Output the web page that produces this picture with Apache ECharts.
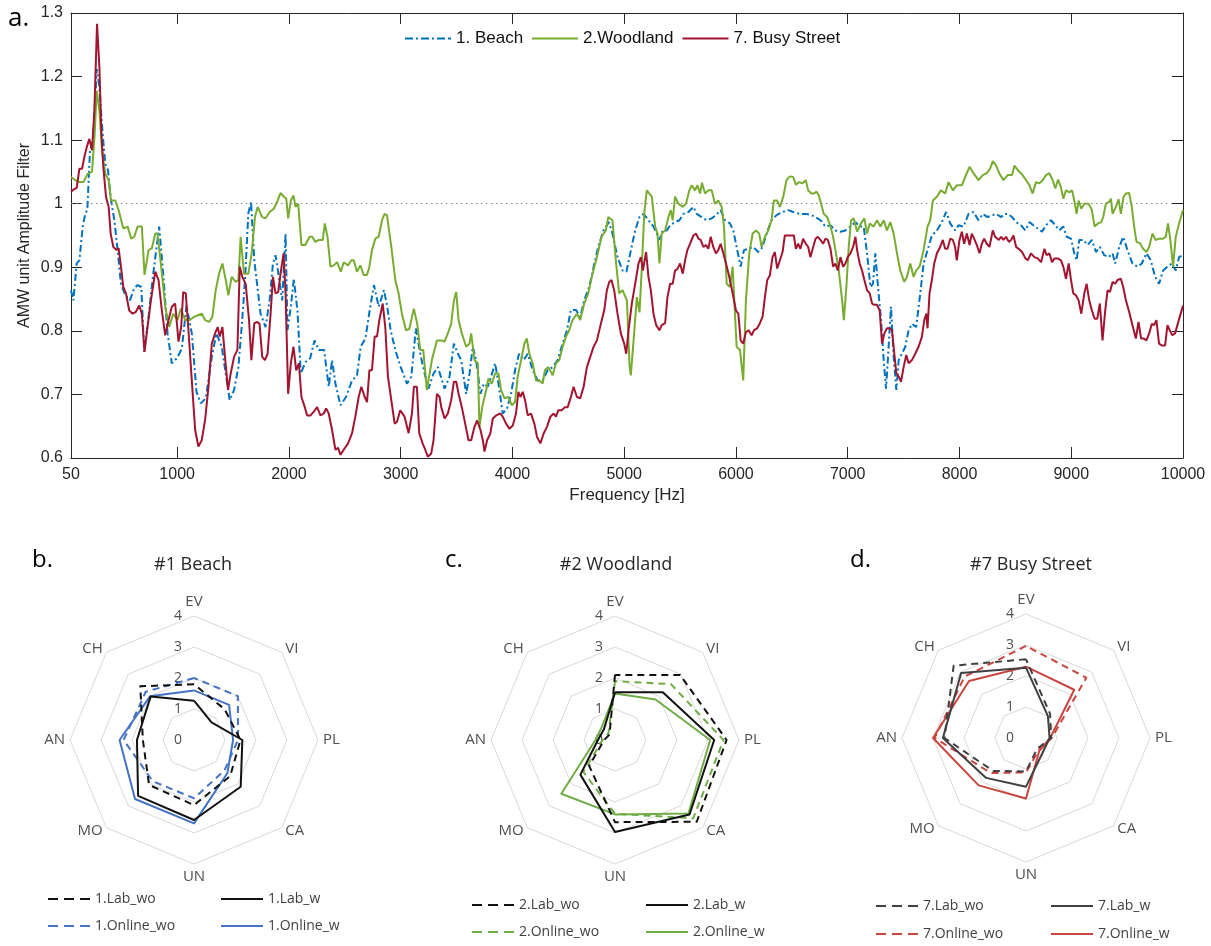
<!DOCTYPE html>
<html><head><meta charset="utf-8">
<script src="https://cdn.jsdelivr.net/npm/echarts@6/dist/echarts.min.js"></script>
<style>html,body{margin:0;padding:0;background:#fff}#c{width:1211px;height:946px}</style>
</head><body><div id="c"></div><script>
// ---------- panel a: amplitude filters ----------
const freqTicks = [50,1000,2000,3000,4000,5000,6000,7000,8000,9000,10000];
const beach = [[50,0.864],[71,0.848],[101,0.906],[125,0.911],[155,0.964],[179,0.985],[196,0.99],[220,1.084],[250,1.1],[280,1.212],[304,1.184],[333,1.11],[357,1.063],[381,1.053],[408,1.005],[438,0.974],[467,0.927],[497,0.874],[536,0.856],[577,0.848],[616,0.867],[646,0.872],[679,0.869],[705,0.767],[744,0.822],[786,0.89],[839,0.964],[875,0.89],[914,0.796],[952,0.749],[997,0.757],[1042,0.772],[1083,0.84],[1131,0.796],[1173,0.704],[1211,0.686],[1256,0.694],[1310,0.759],[1351,0.796],[1399,0.775],[1434,0.733],[1470,0.691],[1509,0.707],[1548,0.743],[1577,0.806],[1607,0.88],[1637,0.985],[1661,1.003],[1690,0.911],
[1746,0.827],[1791,0.806],[1827,0.848],[1857,0.906],[1880,0.919],[1910,0.885],[1940,0.848],[1970,0.953],[1987,0.801],[2017,0.838],[2044,0.882],[2077,0.83],[2106,0.733],[2148,0.751],[2190,0.757],[2229,0.785],[2267,0.77],[2315,0.77],[2356,0.712],[2386,0.754],[2416,0.717],[2461,0.683],[2511,0.696],[2565,0.722],[2609,0.73],[2642,0.775],[2684,0.788],[2728,0.838],[2761,0.872],[2803,0.838],[2850,0.864],[2880,0.838],[2910,0.801],[2952,0.77],[3000,0.743],[3056,0.717],[3095,0.728],[3136,0.804],[3175,0.764],[3214,0.733],[3249,0.709],[3294,0.733],[3333,0.743],
[3393,0.709],[3437,0.728],[3476,0.78],[3512,0.764],[3541,0.754],[3586,0.701],[3616,0.733],[3645,0.775],[3675,0.754],[3714,0.701],[3744,0.717],[3779,0.712],[3809,0.728],[3845,0.749],[3875,0.717],[3913,0.67],[3952,0.678],[3988,0.701],[4023,0.738],[4059,0.764],[4101,0.754],[4137,0.764],[4181,0.738],[4226,0.722],[4270,0.722],[4315,0.738],[4360,0.743],[4404,0.754],[4449,0.78],[4488,0.801],[4523,0.833],[4568,0.833],[4607,0.822],[4642,0.848],[4687,0.869],[4726,0.9],[4767,0.932],[4815,0.958],[4863,0.971],[4895,0.953],[4940,0.916],[4985,0.895],
[5020,0.893],[5054,0.922],[5098,0.958],[5137,0.979],[5173,0.984],[5217,0.974],[5262,0.964],[5292,0.953],[5315,0.943],[5345,0.958],[5381,0.958],[5411,0.966],[5455,0.971],[5494,0.974],[5530,0.984],[5574,0.987],[5619,0.995],[5649,0.984],[5693,0.979],[5738,0.974],[5783,0.977],[5821,0.982],[5863,0.99],[5902,0.974],[5946,0.969],[5976,0.958],[6006,0.932],[6042,0.901],[6071,0.927],[6110,0.929],[6155,0.932],[6199,0.924],[6238,0.932],[6274,0.953],[6318,0.974],[6363,0.982],[6417,0.987],[6467,0.99],[6512,0.987],[6571,0.984],[6625,0.984],[6675,0.982],
[6712,0.979],[6756,0.974],[6801,0.964],[6846,0.966],[6890,0.958],[6935,0.956],[6979,0.958],[7024,0.964],[7069,0.971],[7113,0.964],[7143,0.964],[7173,0.922],[7203,0.869],[7226,0.874],[7247,0.922],[7271,0.869],[7298,0.817],[7322,0.754],[7343,0.709],[7366,0.775],[7387,0.838],[7411,0.759],[7435,0.707],[7456,0.754],[7485,0.764],[7515,0.775],[7545,0.801],[7575,0.811],[7613,0.806],[7649,0.859],[7679,0.906],[7714,0.927],[7753,0.95],[7798,0.958],[7842,0.971],[7881,0.987],[7917,0.969],[7961,0.958],[7991,0.966],[8036,0.964],[8081,0.984],[8125,0.987],[8170,0.974],[8209,0.984],[8250,0.979],[8298,0.982],
[8328,0.984],[8373,0.979],[8402,0.984],[8432,0.984],[8471,0.979],[8507,0.971],[8551,0.966],[8590,0.958],[8626,0.971],[8661,0.966],[8700,0.961],[8739,0.956],[8774,0.966],[8819,0.974],[8858,0.966],[8893,0.958],[8929,0.964],[8959,0.948],[8998,0.945],[9027,0.922],[9048,0.911],[9072,0.943],[9108,0.943],[9146,0.935],[9185,0.943],[9221,0.924],[9256,0.932],[9295,0.919],[9334,0.916],[9370,0.922],[9393,0.906],[9429,0.932],[9465,0.948],[9503,0.927],[9548,0.906],[9593,0.901],[9631,0.906],[9673,0.922],[9712,0.911],[9750,0.885],[9786,0.874],[9822,0.895],[9861,0.901],[9899,0.906],[9935,0.895],[9965,0.916],[10000,0.919]];

const woodland = [[50,1.042],[89,1.037],[125,1.034],[161,1.034],[199,1.047],[238,1.05],[262,1.11],[280,1.178],[304,1.147],[327,1.084],[357,1.047],[387,1.037],[408,1.005],[446,1.005],[476,0.99],[518,0.961],[557,0.964],[589,0.945],[616,0.948],[646,0.964],[684,0.964],[708,0.888],[744,0.927],[774,0.93],[804,0.953],[824,0.953],[854,0.906],[893,0.838],[929,0.806],[964,0.827],[1003,0.817],[1033,0.835],[1071,0.817],[1113,0.817],[1152,0.822],[1190,0.825],[1220,0.827],[1250,0.817],[1286,0.814],[1315,0.822],[1345,0.864],[1375,0.89],[1405,0.906],[1435,0.88],[1458,0.856],[1488,0.885],[1524,0.877],[1548,0.88],[1568,0.948],[1598,0.89],[1637,0.89],[1667,0.922],[1696,0.979],[1720,0.995],
[1761,0.979],[1791,0.977],[1827,0.987],[1865,0.992],[1895,1.003],[1925,1.017],[1955,1.011],[1976,1.008],[1993,0.977],[2017,1.005],[2041,1.013],[2059,0.995],[2083,1.0],[2112,0.935],[2148,0.935],[2184,0.948],[2208,0.948],[2237,0.94],[2267,0.943],[2303,0.943],[2321,0.969],[2345,0.948],[2371,0.901],[2401,0.903],[2431,0.908],[2464,0.893],[2490,0.908],[2529,0.903],[2559,0.911],[2580,0.911],[2609,0.893],[2639,0.903],[2669,0.888],[2699,0.888],[2720,0.901],[2743,0.927],[2773,0.945],[2803,0.948],[2833,0.974],[2856,0.984],[2877,0.982],[2916,0.932],[2952,0.88],[2981,0.859],[3011,0.827],[3047,0.801],[3077,0.803],[3118,0.835],[3148,0.811],[3175,0.77],[3202,0.77],[3234,0.707],[3279,0.754],[3324,0.785],
[3363,0.785],[3393,0.783],[3422,0.796],[3452,0.811],[3476,0.848],[3497,0.861],[3518,0.817],[3547,0.796],[3586,0.775],[3616,0.78],[3631,0.796],[3660,0.754],[3690,0.749],[3705,0.649],[3729,0.68],[3765,0.707],[3785,0.725],[3815,0.717],[3845,0.733],[3875,0.733],[3898,0.707],[3928,0.694],[3964,0.696],[3994,0.683],[4023,0.688],[4047,0.728],[4077,0.754],[4107,0.78],[4128,0.788],[4151,0.764],[4181,0.749],[4211,0.722],[4241,0.722],[4270,0.717],[4291,0.738],[4321,0.743],[4360,0.73],[4389,0.749],[4419,0.754],[4449,0.775],[4479,0.791],[4508,0.801],[4538,0.817],[4577,0.827],[4607,0.817],[4642,0.843],[4678,0.859],[4717,0.89],[4756,0.916],[4797,0.948],[4836,0.958],[4857,0.979],[4895,0.974],[4925,0.911],[4955,0.859],[4985,0.864],
[5024,0.848],[5048,0.745],[5059,0.73],[5089,0.796],[5113,0.853],[5137,0.829],[5158,0.901],[5179,0.984],[5202,1.021],[5247,1.011],[5277,0.964],[5298,0.953],[5315,0.906],[5336,0.953],[5366,0.958],[5396,0.979],[5417,0.99],[5434,0.974],[5455,1.011],[5485,1.0],[5524,0.995],[5553,1.0],[5583,1.021],[5604,1.029],[5634,1.021],[5655,1.029],[5679,1.016],[5696,1.033],[5723,1.016],[5753,1.021],[5783,1.021],[5812,1.0],[5842,1.005],[5872,0.995],[5893,0.964],[5917,0.874],[5946,0.869],[5970,0.901],[6006,0.775],[6036,0.77],[6065,0.722],[6089,0.848],[6119,0.922],[6149,0.953],[6179,0.958],[6208,0.953],[6229,0.932],[6259,0.948],[6289,0.958],[6318,0.974],[6339,1.005],[6369,1.005],[6393,0.995],[6423,1.011],[6452,1.037],[6482,1.043],[6512,1.042],[6536,1.03],[6565,1.034],[6595,1.032],[6625,1.037],[6646,1.021],[6675,1.016],
[6697,1.016],[6721,1.019],[6741,1.013],[6762,1.0],[6786,0.984],[6816,0.979],[6846,0.964],[6869,0.948],[6890,0.927],[6920,0.895],[6950,0.848],[6965,0.817],[6988,0.869],[7009,0.932],[7030,0.974],[7054,0.977],[7084,0.956],[7119,0.969],[7149,0.977],[7173,0.953],[7197,0.969],[7232,0.964],[7262,0.974],[7292,0.964],[7322,0.974],[7351,0.958],[7381,0.971],[7411,0.953],[7441,0.922],[7470,0.895],[7506,0.877],[7530,0.885],[7560,0.906],[7589,0.885],[7613,0.895],[7643,0.901],[7679,0.927],[7714,0.964],[7738,0.974],[7762,1.005],[7798,1.011],[7833,1.021],[7872,1.016],[7902,1.034],[7941,1.021],[7976,1.029],[8021,1.029],[8051,1.042],[8090,1.058],[8125,1.048],[8170,1.037],[8209,1.045],[8244,1.048],[8274,1.055],[8298,1.067],
[8328,1.06],[8358,1.047],[8393,1.037],[8432,1.045],[8471,1.045],[8492,1.06],[8521,1.053],[8560,1.046],[8596,1.037],[8626,1.029],[8655,1.016],[8685,1.034],[8715,1.032],[8745,1.037],[8774,1.045],[8804,1.048],[8834,1.037],[8858,1.024],[8882,1.038],[8908,1.026],[8929,1.008],[8953,1.021],[8983,1.018],[9007,1.021],[9027,1.005],[9048,0.984],[9066,1.005],[9090,0.992],[9117,1.0],[9155,1.0],[9185,0.99],[9209,0.964],[9239,0.969],[9268,0.971],[9286,0.979],[9310,1.0],[9340,1.003],[9355,1.008],[9370,0.984],[9399,0.995],[9423,1.007],[9444,0.984],[9468,1.011],[9489,1.016],[9518,1.017],[9542,0.995],[9563,0.964],[9584,0.94],[9614,0.938],[9643,0.929],[9673,0.924],[9697,0.932],[9727,0.953],[9756,0.943],[9786,0.945],[9822,0.945],[9846,0.948],[9866,0.969],[9887,0.943],[9911,0.901],[9935,0.948],[9965,0.969],[10000,0.99]];

const busyStreet = [[50,1.019],[71,1.022],[101,1.025],[125,1.055],[149,1.055],[170,1.074],[191,1.089],[214,1.102],[238,1.084],[259,1.147],[283,1.283],[304,1.215],[321,1.116],[339,1.058],[363,1.011],[387,0.995],[405,0.953],[429,0.932],[458,0.927],[476,0.93],[497,0.901],[518,0.869],[542,0.859],[571,0.832],[601,0.827],[631,0.83],[661,0.84],[684,0.827],[708,0.767],[735,0.806],[765,0.848],[804,0.893],[833,0.88],[863,0.832],[893,0.793],[923,0.817],[952,0.838],[982,0.843],[1012,0.783],[1036,0.806],[1054,0.861],[1077,0.859],[1101,0.801],[1131,0.722],[1161,0.644],[1190,0.618],[1220,0.628],[1250,0.66],[1280,0.712],[1310,0.78],[1339,0.796],[1363,0.806],[1381,0.791],[1405,0.806],[1428,0.759],[1455,0.707],[1479,0.733],[1509,0.759],[1539,0.77],[1560,0.901],[1583,0.885],[1613,0.874],[1643,0.817],[1664,0.754],[1690,0.812],[1717,0.814],
[1737,0.811],[1761,0.759],[1785,0.754],[1809,0.764],[1836,0.827],[1857,0.885],[1880,0.859],[1904,0.861],[1925,0.89],[1952,0.922],[1970,0.859],[1993,0.701],[2017,0.749],[2041,0.775],[2065,0.738],[2089,0.749],[2112,0.696],[2142,0.68],[2163,0.667],[2193,0.667],[2223,0.673],[2252,0.68],[2282,0.667],[2312,0.67],[2333,0.678],[2356,0.67],[2386,0.644],[2416,0.613],[2440,0.616],[2461,0.605],[2490,0.613],[2529,0.623],[2565,0.639],[2594,0.665],[2624,0.696],[2648,0.712],[2678,0.696],[2699,0.688],[2720,0.738],[2743,0.738],[2767,0.791],[2788,0.791],[2809,0.817],[2839,0.843],[2862,0.806],[2886,0.728],[2916,0.691],[2946,0.654],[2967,0.657],[2996,0.675],[3035,0.665],[3071,0.639],[3101,0.67],[3118,0.712],[3145,0.712],[3166,0.639],[3196,0.623],[3220,0.613],[3243,0.602],[3273,0.607],[3294,0.628],[3324,0.701],[3348,0.696],
[3363,0.68],[3393,0.662],[3422,0.67],[3452,0.691],[3476,0.72],[3497,0.72],[3518,0.701],[3547,0.68],[3577,0.654],[3607,0.628],[3631,0.628],[3660,0.649],[3684,0.659],[3714,0.644],[3735,0.628],[3750,0.61],[3773,0.628],[3803,0.639],[3824,0.662],[3854,0.667],[3892,0.67],[3913,0.665],[3943,0.654],[3973,0.646],[4003,0.651],[4032,0.67],[4053,0.704],[4071,0.696],[4092,0.704],[4113,0.691],[4137,0.667],[4166,0.67],[4196,0.654],[4220,0.633],[4250,0.623],[4280,0.639],[4309,0.649],[4339,0.665],[4369,0.67],[4389,0.665],[4410,0.675],[4440,0.675],[4470,0.68],[4494,0.68],[4523,0.696],[4547,0.712],[4577,0.696],[4607,0.694],[4637,0.712],[4666,0.743],[4696,0.759],[4726,0.775],[4756,0.785],[4791,0.811],[4821,0.832],[4845,0.864],[4866,0.877],[4886,0.88],[4910,0.864],[4940,0.827],[4970,0.796],[5000,0.78],
[5018,0.764],[5039,0.801],[5068,0.843],[5098,0.874],[5128,0.906],[5149,0.916],[5167,0.895],[5196,0.924],[5217,0.885],[5238,0.864],[5262,0.827],[5286,0.809],[5315,0.801],[5336,0.809],[5366,0.812],[5387,0.853],[5411,0.874],[5434,0.874],[5455,0.895],[5476,0.897],[5500,0.906],[5524,0.89],[5545,0.911],[5565,0.927],[5589,0.937],[5619,0.95],[5643,0.953],[5664,0.945],[5684,0.943],[5708,0.932],[5732,0.935],[5753,0.929],[5774,0.948],[5797,0.932],[5821,0.922],[5842,0.927],[5863,0.937],[5887,0.922],[5911,0.906],[5940,0.885],[5970,0.859],[6000,0.832],[6021,0.827],[6042,0.785],[6065,0.78],[6089,0.798],[6113,0.801],[6140,0.793],[6161,0.801],[6190,0.804],[6214,0.812],[6238,0.822],[6259,0.853],[6280,0.88],[6303,0.887],[6327,0.916],[6348,0.924],[6369,0.898],[6393,0.911],[6417,0.924],[6437,0.95],[6467,0.95],[6497,0.95],[6518,0.95],[6536,0.929],[6556,0.937],[6577,0.929],[6601,0.945],[6625,0.937],[6646,0.932],[6666,0.916],
[6691,0.932],[6712,0.945],[6732,0.948],[6756,0.943],[6780,0.937],[6801,0.945],[6822,0.943],[6846,0.929],[6869,0.901],[6890,0.906],[6911,0.895],[6935,0.916],[6959,0.901],[6979,0.906],[7000,0.916],[7024,0.922],[7048,0.932],[7069,0.948],[7084,0.927],[7107,0.906],[7128,0.895],[7149,0.88],[7173,0.864],[7197,0.859],[7218,0.843],[7238,0.841],[7262,0.841],[7286,0.832],[7307,0.78],[7328,0.796],[7351,0.804],[7375,0.804],[7396,0.801],[7417,0.764],[7435,0.733],[7456,0.728],[7477,0.72],[7500,0.743],[7524,0.762],[7545,0.749],[7575,0.754],[7604,0.764],[7634,0.775],[7664,0.791],[7685,0.817],[7703,0.827],[7714,0.804],[7732,0.859],[7753,0.88],[7774,0.906],[7798,0.922],[7827,0.932],[7851,0.943],[7872,0.929],[7893,0.929],[7917,0.945],[7941,0.943],[7961,0.932],[7976,0.911],[8000,0.943],[8021,0.956],[8042,0.937],[8066,0.953],[8090,0.935],[8110,0.953],[8131,0.945],[8155,0.935],[8179,0.922],[8200,0.937],[8221,0.945],[8244,0.937],[8268,0.932],[8298,0.958],[8319,0.948],
[8352,0.943],[8373,0.948],[8393,0.943],[8417,0.948],[8441,0.94],[8462,0.943],[8483,0.95],[8507,0.932],[8530,0.929],[8560,0.924],[8590,0.914],[8611,0.911],[8640,0.922],[8670,0.916],[8700,0.914],[8730,0.908],[8760,0.929],[8780,0.919],[8804,0.922],[8828,0.908],[8849,0.914],[8879,0.914],[8908,0.911],[8929,0.901],[8953,0.882],[8977,0.906],[8998,0.88],[9018,0.859],[9042,0.856],[9066,0.848],[9090,0.827],[9117,0.859],[9138,0.874],[9161,0.848],[9185,0.832],[9209,0.819],[9233,0.819],[9256,0.843],[9280,0.785],[9304,0.832],[9325,0.864],[9346,0.861],[9370,0.877],[9393,0.874],[9414,0.88],[9444,0.882],[9465,0.869],[9489,0.848],[9518,0.83],[9548,0.809],[9578,0.788],[9602,0.814],[9625,0.788],[9649,0.788],[9673,0.785],[9697,0.796],[9721,0.811],[9741,0.809],[9762,0.817],[9786,0.78],[9810,0.777],[9840,0.777],[9861,0.809],[9881,0.801],[9905,0.793],[9929,0.796],[9950,0.809],[9971,0.822],[10000,0.84]];

// ---------- panels b-d: radar scores (clockwise from top) ----------
const radarAxes = ['EV','VI','PL','CA','UN','MO','AN','CH'];
const radarTicks = [0,1,2,3,4];
const beachLabWo    = [1.8, 1.4, 1.5, 1.65, 2.1, 2.05, 1.65, 2.45];
const beachLabW     = [1.27, 0.8, 1.56, 2.13, 2.58, 2.55, 1.84, 1.98];
const beachOnlineWo = [2.0, 2.0, 1.42, 1.39, 1.88, 1.88, 2.27, 2.2];
const beachOnlineW  = [1.6, 1.6, 1.26, 1.52, 2.69, 2.69, 2.4, 2.0];
const woodLabWo     = [2.1, 2.97, 3.6, 3.73, 2.65, 1.18, 0.35, 0.25];
const woodLabW      = [1.54, 2.18, 3.2, 3.4, 2.97, 1.58, 0.55, 0.5];
const woodOnlineWo  = [1.9, 2.55, 3.5, 3.57, 2.38, 1.45, 0.4, 0.3];
const woodOnlineW   = [1.5, 1.85, 3.07, 3.35, 2.4, 2.45, 0.63, 0.6];
const streetLabWo   = [2.54, 1.1, 0.81, 0.5, 1.08, 1.5, 2.63, 3.3];
const streetLabW    = [2.27, 1.0, 0.76, 0.73, 1.57, 1.82, 2.68, 2.96];
const streetOnlineWo= [2.97, 2.75, 0.83, 0.57, 1.11, 1.6, 2.95, 2.8];
const streetOnlineW = [2.3, 2.2, 0.78, 0.6, 1.95, 2.16, 3.0, 2.6];

// ECharts places radar indicators counter-clockwise, so reverse after the first
const order = [0,7,6,5,4,3,2,1];
const reorder = arr => order.map(i => arr[i]);

const ink = '#262626';
const gray = '#505050';
const sans = 'Liberation Sans, Arial, sans-serif';
const office = 'Open Sans, Noto Sans, sans-serif';

function indicators() {
  return order.map((i, k) => {
    const o = {name: radarAxes[i], min: radarTicks[0], max: radarTicks[radarTicks.length-1]};
    if (k === 0) o.axisLabel = {show: true};
    return o;
  });
}
function radarCfg(center) {
  return {
    center: center, radius: 124, startAngle: 90, splitNumber: 4, shape: 'polygon',
    indicator: indicators(),
    nameGap: 5,
    axisName: {color: gray, fontFamily: office, fontSize: 15},
    splitLine: {lineStyle: {color: '#d9d9d9', width: 1}},
    splitArea: {show: false},
    axisLine: {show: false},
    axisTick: {show: false},
    axisLabel: {show: false, color: gray, fontFamily: office, fontSize: 14, margin: 12}
  };
}
const dashed = [7, 5];
function rs(name, idx, values, color, dash) {
  return {
    type: 'radar', radarIndex: idx, name: name, symbol: 'none', silent: true,
    itemStyle: {color: color},
    lineStyle: {color: color, width: 2, type: dash ? dashed : 'solid'},
    data: [{value: reorder(values), name: name}]
  };
}
const iconDash = 'path://M0,0h10v2h-10zM16,0h10v2h-10zM32,0h10v2h-10z';
const iconSolid = 'path://M0,0h42v2h-42z';
function lg(name, left, cy, dash) {
  return {
    data: [{name: name, icon: dash ? iconDash : iconSolid}],
    left: left, top: cy - 9, padding: 0, itemWidth: 42, itemHeight: 2,
    selectedMode: false,
    textStyle: {color: '#404040', fontFamily: office, fontSize: 14}
  };
}
const iconDashDot = 'path://M0,0h8v2h-8zM11,0h2v2h-2zM16,0h8v2h-8zM27,0h2v2h-2zM32,0h8v2h-8zM43,0h3v2h-3z';
const iconLine46 = 'path://M0,0h46v2h-46z';

const blue = '#0072BD', green = '#77AC30', red = '#A2142F';
const cBlue = '#4472C4', cGreen = '#70AD47', cRed = '#C9453F', cBlack = '#111111', cDark = '#404040';

const chart = echarts.init(document.getElementById('c'), null, {renderer: 'canvas'});
chart.setOption({
  animation: false,
  backgroundColor: '#ffffff',
  grid: {left: 71, top: 13, width: 1112, height: 445, containLabel: false},
  xAxis: [
    {type: 'value', min: 50, max: 10000, position: 'bottom',
     name: 'Frequency [Hz]', nameLocation: 'middle', nameGap: 29,
     nameTextStyle: {color: ink, fontFamily: sans, fontSize: 17},
     axisLine: {lineStyle: {color: ink, width: 1}},
     axisTick: {inside: true, length: 11, customValues: freqTicks, lineStyle: {color: ink}},
     axisLabel: {customValues: freqTicks, color: ink, fontFamily: sans, fontSize: 16, margin: 9,
                 formatter: v => String(v)},
     splitLine: {show: false}},
    {type: 'value', min: 50, max: 10000, position: 'top',
     axisLine: {lineStyle: {color: ink, width: 1}},
     axisTick: {inside: true, length: 11, customValues: freqTicks, lineStyle: {color: ink}},
     axisLabel: {show: false}, splitLine: {show: false}}
  ],
  yAxis: [
    {type: 'value', min: 0.6, max: 1.3, interval: 0.1, position: 'left',
     name: 'AMW unit Amplitude Filter', nameLocation: 'middle', nameGap: 38, nameMoveOverlap: false,
     nameTextStyle: {color: ink, fontFamily: sans, fontSize: 16},
     axisLine: {show: true, lineStyle: {color: ink, width: 1}},
     axisTick: {show: true, inside: true, length: 11, lineStyle: {color: ink}},
     axisLabel: {color: ink, fontFamily: sans, fontSize: 16, margin: 8},
     splitLine: {show: false}},
    {type: 'value', min: 0.6, max: 1.3, interval: 0.1, position: 'right',
     axisLine: {show: true, lineStyle: {color: ink, width: 1}},
     axisTick: {show: true, inside: true, length: 11, lineStyle: {color: ink}},
     axisLabel: {show: false}, splitLine: {show: false}}
  ],
  radar: [radarCfg([194, 740]), radarCfg([615, 740]), radarCfg([1026, 738])],
  legend: [
    {data: [{name: '1. Beach', icon: iconDashDot}, {name: '2.Woodland', icon: iconLine46},
            {name: '7. Busy Street', icon: iconLine46}],
     left: 405, top: 30, padding: 0,
     itemWidth: 46, itemHeight: 2, itemGap: 9, selectedMode: false,
     textStyle: {color: '#111', fontFamily: sans, fontSize: 17}},
    lg('1.Lab_wo', 48, 901, true), lg('1.Lab_w', 221, 901, false),
    lg('1.Online_wo', 48, 928, true), lg('1.Online_w', 221, 928, false),
    lg('2.Lab_wo', 472, 907, true), lg('2.Lab_w', 646, 907, false),
    lg('2.Online_wo', 472, 934, true), lg('2.Online_w', 646, 934, false),
    lg('7.Lab_wo', 876, 908, true), lg('7.Lab_w', 1051, 908, false),
    lg('7.Online_wo', 876, 936, true), lg('7.Online_w', 1051, 936, false)
  ],
  graphic: [
    {type: 'text', left: 8, top: 6, style: {text: 'a.', font: '26px Open Sans', fill: '#000'}},
    {type: 'text', left: 32, top: 548, style: {text: 'b.', font: '24px Open Sans', fill: '#000'}},
    {type: 'text', left: 445, top: 548, style: {text: 'c.', font: '24px Open Sans', fill: '#000'}},
    {type: 'text', left: 850, top: 548, style: {text: 'd.', font: '24px Open Sans', fill: '#000'}},
    {type: 'text', x: 193, y: 565, style: {text: '#1 Beach', font: '18px Open Sans', fill: ink, align: 'center', verticalAlign: 'middle'}},
    {type: 'text', x: 616, y: 565, style: {text: '#2 Woodland', font: '18px Open Sans', fill: ink, align: 'center', verticalAlign: 'middle'}},
    {type: 'text', x: 1031, y: 565, style: {text: '#7 Busy Street', font: '18px Open Sans', fill: ink, align: 'center', verticalAlign: 'middle'}}
  ],
  series: [
    {type: 'line', name: '1. Beach', data: beach, symbol: 'none', showSymbol: false,
     lineStyle: {color: blue, width: 2, type: [7, 3, 2, 3]}, itemStyle: {color: blue},
     markLine: {silent: true, symbol: 'none', label: {show: false},
       lineStyle: {color: '#888', type: [1.5, 3.5], width: 1},
       data: [[{coord: [50, 1]}, {coord: [9900, 1]}]]}},
    {type: 'line', name: '2.Woodland', data: woodland, symbol: 'none', showSymbol: false,
     lineStyle: {color: green, width: 2}, itemStyle: {color: green}},
    {type: 'line', name: '7. Busy Street', data: busyStreet, symbol: 'none', showSymbol: false,
     lineStyle: {color: red, width: 2}, itemStyle: {color: red}},
    rs('1.Online_wo', 0, beachOnlineWo, cBlue, true),
    rs('1.Online_w', 0, beachOnlineW, cBlue, false),
    rs('1.Lab_wo', 0, beachLabWo, cBlack, true),
    rs('1.Lab_w', 0, beachLabW, cBlack, false),
    rs('2.Online_wo', 1, woodOnlineWo, cGreen, true),
    rs('2.Online_w', 1, woodOnlineW, cGreen, false),
    rs('2.Lab_wo', 1, woodLabWo, cBlack, true),
    rs('2.Lab_w', 1, woodLabW, cBlack, false),
    rs('7.Online_wo', 2, streetOnlineWo, cRed, true),
    rs('7.Online_w', 2, streetOnlineW, cRed, false),
    rs('7.Lab_wo', 2, streetLabWo, cDark, true),
    rs('7.Lab_w', 2, streetLabW, cDark, false)
  ]
});
</script></body></html>
